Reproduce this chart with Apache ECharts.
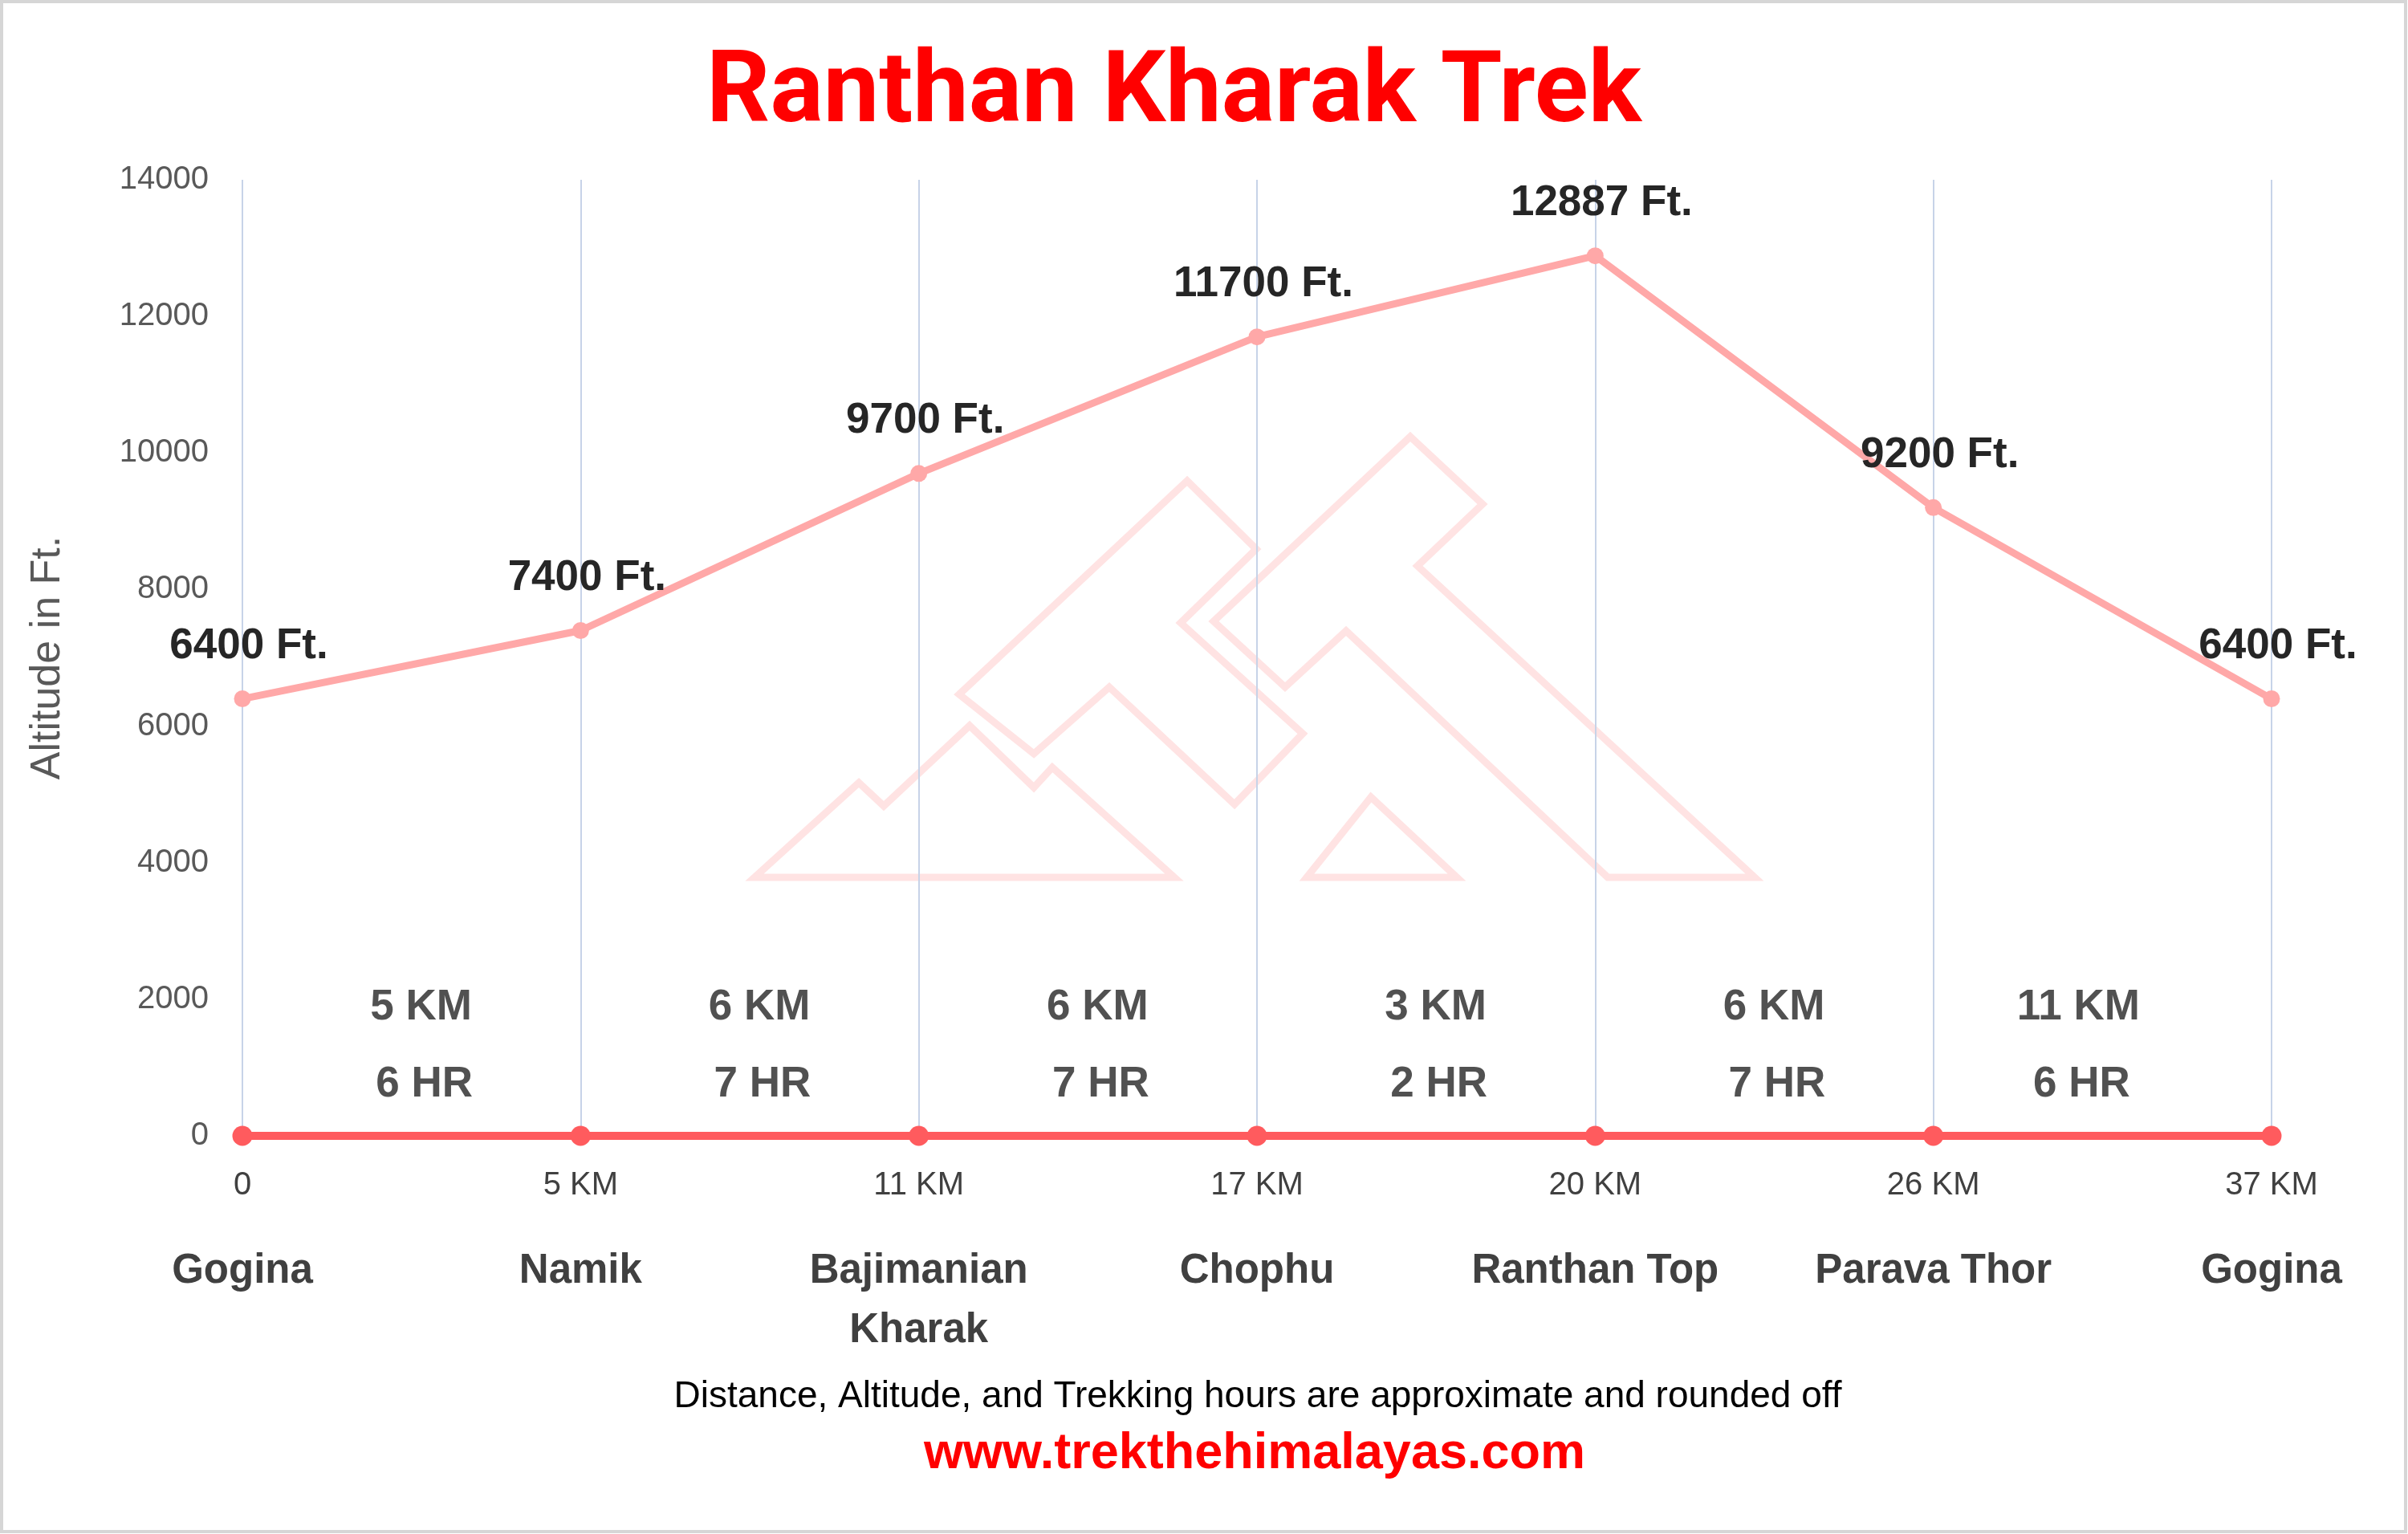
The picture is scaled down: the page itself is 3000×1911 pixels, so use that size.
<!DOCTYPE html>
<html>
<head>
<meta charset="utf-8">
<script src="https://cdn.jsdelivr.net/npm/echarts@6/dist/echarts.min.js"></script>
<style>
html,body{margin:0;padding:0;background:#fff;}
#chart{width:3000px;height:1911px;}
</style>
</head>
<body>
<div id="chart"></div>
<script>
// ---- data ----
const stations = ['Gogina', 'Namik', 'Bajimanian\nKharak', 'Chophu', 'Ranthan Top', 'Parava Thor', 'Gogina'];
const distanceLabels = ['0', '5 KM', '11 KM', '17 KM', '20 KM', '26 KM', '37 KM'];
const altitudes = [6400, 7400, 9700, 11700, 12887, 9200, 6400];
const baseline = [0, 0, 0, 0, 0, 0, 0];
const segmentKm = ['5 KM', '6 KM', '6 KM', '3 KM', '6 KM', '11 KM'];
const segmentHr = ['6 HR', '7 HR', '7 HR', '2 HR', '7 HR', '6 HR'];
const yMin = 0, yMax = 14000, yStep = 2000;

// ---- styling constants ----
const KM_ROW = 1880;  // altitude level at which the segment distance labels sit
const HR_ROW = 750;   // altitude level at which the segment hour labels sit
const SEG_SHIFT = [12, 12, 12, 12, 12, -30]; // horizontal nudge of each segment label (px)
const SANS = "'Liberation Sans', Arial, sans-serif";

const chart = echarts.init(document.getElementById('chart'));

const segKmData = segmentKm.map((t, i) => ({ value: [i + 0.5, KM_ROW], name: t,
  label: { offset: [SEG_SHIFT[i], 0] } }));
const segHrData = segmentHr.map((t, i) => ({ value: [i + 0.5, HR_ROW], name: t,
  label: { offset: [SEG_SHIFT[i] + 4, 0] } }));

function wm(points) {
  return {
    type: 'polygon', z: -10, silent: true,
    shape: { points: points },
    style: { fill: 'none', stroke: '#FFE3E3', lineWidth: 9, lineJoin: 'miter' }
  };
}

const option = {
  backgroundColor: '#ffffff',
  animation: false,
  title: {
    text: 'Ranthan Kharak Trek',
    left: 880,
    top: 58,
    padding: 0,
    textStyle: { color: '#FF0000', fontSize: 124, fontWeight: 'bold', fontFamily: 'Roboto' }
  },
  grid: { left: 302, right: 170, top: 224, bottom: 496, containLabel: false },
  xAxis: [
    {
      type: 'category', data: distanceLabels, boundaryGap: false,
      axisLine: { show: false }, axisTick: { show: false },
      axisLabel: { margin: 42, fontSize: 40, color: '#404040', fontFamily: SANS, interval: 0 },
      splitLine: { show: true, lineStyle: { color: '#C7D3E8', width: 2 } }
    },
    {
      type: 'category', data: stations, boundaryGap: false, position: 'bottom',
      axisLine: { show: false }, axisTick: { show: false }, splitLine: { show: false },
      axisLabel: { margin: 132, fontSize: 51, fontWeight: 'bold', color: '#404040',
                   fontFamily: SANS, lineHeight: 74, interval: 0 }
    },
    { type: 'value', min: 0, max: 6, show: false }
  ],
  yAxis: {
    type: 'value', min: yMin, max: yMax, interval: yStep,
    name: 'Altitude in Ft.', nameLocation: 'middle', nameGap: 216, nameRotate: 90,
    nameTextStyle: { fontSize: 52, color: '#595959', fontFamily: SANS },
    axisLine: { show: false }, axisTick: { show: false }, splitLine: { show: false },
    axisLabel: { margin: 42, fontSize: 40, color: '#595959', fontFamily: SANS,
                 formatter: v => String(v) }
  },
  series: [
    {
      name: 'Baseline', type: 'line', xAxisIndex: 0, data: baseline,
      symbol: 'circle', symbolSize: 25, z: 3,
      lineStyle: { color: '#FF5B5E', width: 10 },
      itemStyle: { color: '#FF5B5E' }
    },
    {
      name: 'Altitude', type: 'line', xAxisIndex: 0, data: altitudes,
      symbol: 'circle', symbolSize: 21, z: 4,
      lineStyle: { color: '#FFA8A8', width: 9 },
      itemStyle: { color: '#FFA8A8' },
      label: {
        show: true, position: 'top', distance: 28, offset: [8, 0],
        formatter: p => p.value + ' Ft.',
        fontSize: 53, fontWeight: 'bold', color: '#262626', fontFamily: SANS
      }
    },
    {
      name: 'Segment distance', type: 'scatter', xAxisIndex: 2, data: segKmData,
      symbolSize: 1, itemStyle: { color: 'rgba(0,0,0,0)' }, z: 5,
      label: { show: true, position: 'inside', formatter: p => p.name,
               fontSize: 53, fontWeight: 'bold', color: '#262626', fontFamily: SANS }
    },
    {
      name: 'Segment hours', type: 'scatter', xAxisIndex: 2, data: segHrData,
      symbolSize: 1, itemStyle: { color: 'rgba(0,0,0,0)' }, z: 5,
      label: { show: true, position: 'inside', formatter: p => p.name,
               fontSize: 53, fontWeight: 'bold', color: '#262626', fontFamily: SANS }
    }
  ],
  graphic: [
    // faint logo watermark
    wm([[940,1093],[1070,975],[1101,1004],[1208,904],[1288,981],[1311,956],[1463,1093]]),
    wm([[1479,599],[1195,865],[1288,939],[1382,856],[1538,1002],[1623,914],[1471,776],[1565,684]]),
    wm([[1757,544],[1847,628],[1766,705],[2186,1093],[2003,1093],[1677,786],[1601,856],[1512,774]]),
    wm([[1708,993],[1815,1093],[1628,1093]]),
    {
      type: 'text', x: 1567, y: 1740, z: 10,
      style: { text: 'Distance, Altitude, and Trekking hours are approximate and rounded off',
               fill: '#000000', font: "46px 'Liberation Sans', Arial, sans-serif",
               align: 'center', verticalAlign: 'middle' }
    },
    {
      type: 'text', x: 1563, y: 1812, z: 10,
      style: { text: 'www.trekthehimalayas.com',
               fill: '#FF0000', font: "bold 63px 'Liberation Sans', Arial, sans-serif",
               align: 'center', verticalAlign: 'middle' }
    },
    {
      type: 'rect', z: 20, silent: true,
      shape: { x: 2, y: 2, width: 2995, height: 1906 },
      style: { fill: 'none', stroke: '#D6D6D6', lineWidth: 4 }
    }
  ]
};
chart.setOption(option);
</script>
</body>
</html>
